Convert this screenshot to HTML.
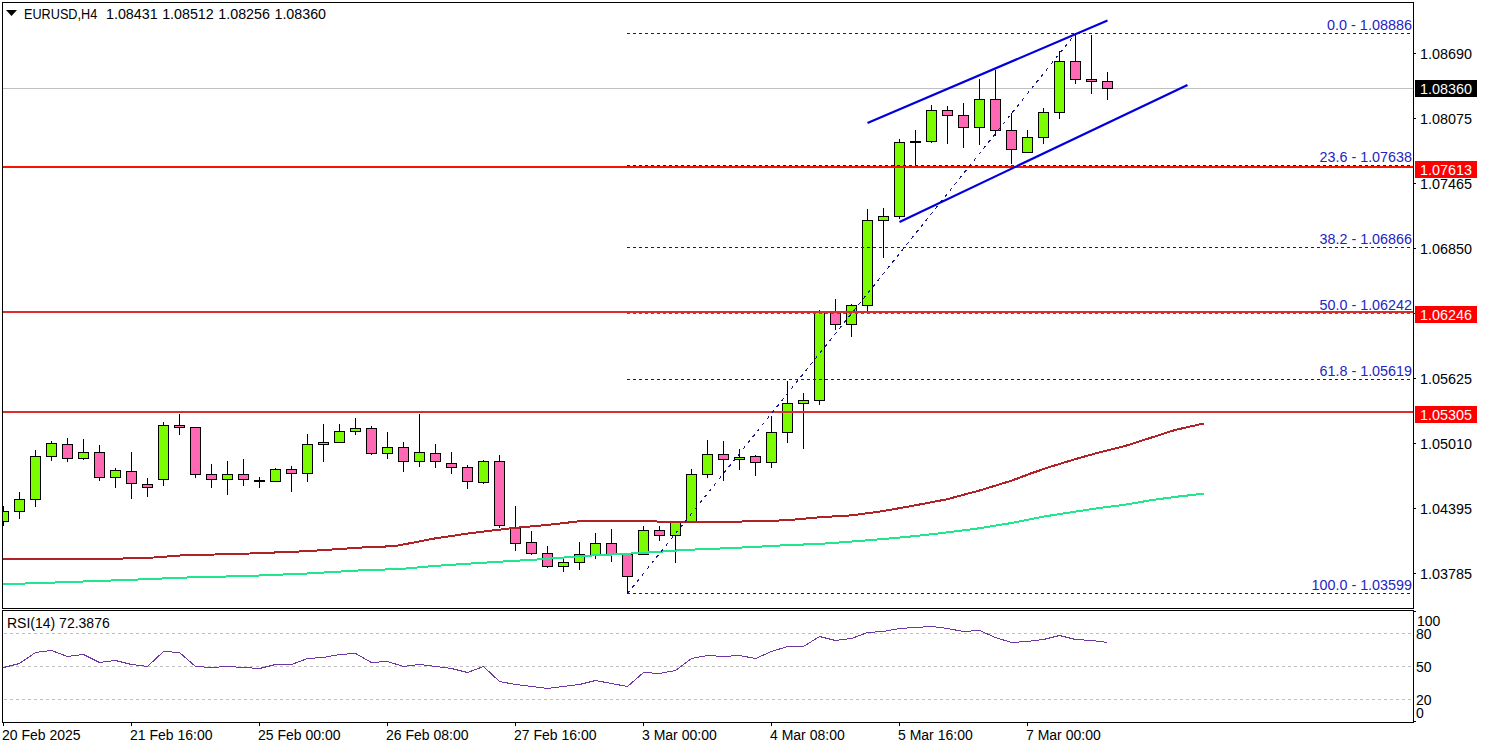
<!DOCTYPE html>
<html><head><meta charset="utf-8"><title>EURUSD,H4</title>
<style>
html,body{margin:0;padding:0;background:#fff;}
body{width:1485px;height:749px;overflow:hidden;font-family:"Liberation Sans",sans-serif;}
svg{display:block;}
svg text{font-family:"Liberation Sans",sans-serif;font-size:14px;}
.c{shape-rendering:crispEdges;}
</style></head><body>
<svg width="1485" height="749" viewBox="0 0 1485 749">
<rect width="1485" height="749" fill="#fff"/>
<defs><clipPath id="mc"><rect x="3" y="3" width="1410" height="605"/></clipPath><clipPath id="sc"><rect x="3" y="611" width="1410" height="111"/></clipPath></defs>
<rect class="c" x="3" y="88" width="1410" height="1" fill="#c0c0c0"/>
<g class="c" clip-path="url(#mc)">
<rect x="3" y="506" width="1" height="20" fill="#000"/>
<rect x="-2" y="511" width="11" height="11" fill="#000"/>
<rect x="-1" y="512" width="9" height="9" fill="#7cfc00"/>
<rect x="19" y="492" width="1" height="27" fill="#000"/>
<rect x="14" y="499" width="11" height="13" fill="#000"/>
<rect x="15" y="500" width="9" height="11" fill="#7cfc00"/>
<rect x="35" y="450" width="1" height="57" fill="#000"/>
<rect x="30" y="456" width="11" height="44" fill="#000"/>
<rect x="31" y="457" width="9" height="42" fill="#7cfc00"/>
<rect x="51" y="441" width="1" height="20" fill="#000"/>
<rect x="46" y="443" width="11" height="14" fill="#000"/>
<rect x="47" y="444" width="9" height="12" fill="#7cfc00"/>
<rect x="67" y="438" width="1" height="24" fill="#000"/>
<rect x="62" y="444" width="11" height="15" fill="#000"/>
<rect x="63" y="445" width="9" height="13" fill="#ff69b4"/>
<rect x="83" y="439" width="1" height="21" fill="#000"/>
<rect x="78" y="452" width="11" height="7" fill="#000"/>
<rect x="79" y="453" width="9" height="5" fill="#7cfc00"/>
<rect x="99" y="445" width="1" height="36" fill="#000"/>
<rect x="94" y="452" width="11" height="26" fill="#000"/>
<rect x="95" y="453" width="9" height="24" fill="#ff69b4"/>
<rect x="115" y="468" width="1" height="20" fill="#000"/>
<rect x="110" y="470" width="11" height="8" fill="#000"/>
<rect x="111" y="471" width="9" height="6" fill="#7cfc00"/>
<rect x="131" y="452" width="1" height="47" fill="#000"/>
<rect x="126" y="471" width="11" height="13" fill="#000"/>
<rect x="127" y="472" width="9" height="11" fill="#ff69b4"/>
<rect x="147" y="478" width="1" height="19" fill="#000"/>
<rect x="142" y="484" width="11" height="4" fill="#000"/>
<rect x="143" y="485" width="9" height="2" fill="#ff69b4"/>
<rect x="163" y="422" width="1" height="64" fill="#000"/>
<rect x="158" y="425" width="11" height="55" fill="#000"/>
<rect x="159" y="426" width="9" height="53" fill="#7cfc00"/>
<rect x="179" y="414" width="1" height="21" fill="#000"/>
<rect x="174" y="425" width="11" height="3" fill="#000"/>
<rect x="175" y="426" width="9" height="1" fill="#ff69b4"/>
<rect x="195" y="427" width="1" height="51" fill="#000"/>
<rect x="190" y="427" width="11" height="48" fill="#000"/>
<rect x="191" y="428" width="9" height="46" fill="#ff69b4"/>
<rect x="211" y="464" width="1" height="24" fill="#000"/>
<rect x="206" y="474" width="11" height="6" fill="#000"/>
<rect x="207" y="475" width="9" height="4" fill="#ff69b4"/>
<rect x="227" y="461" width="1" height="34" fill="#000"/>
<rect x="222" y="474" width="11" height="6" fill="#000"/>
<rect x="223" y="475" width="9" height="4" fill="#7cfc00"/>
<rect x="243" y="459" width="1" height="27" fill="#000"/>
<rect x="238" y="474" width="11" height="6" fill="#000"/>
<rect x="239" y="475" width="9" height="4" fill="#ff69b4"/>
<rect x="259" y="477" width="1" height="11" fill="#000"/>
<rect x="254" y="480" width="11" height="2" fill="#000"/>
<rect x="275" y="468" width="1" height="14" fill="#000"/>
<rect x="270" y="469" width="11" height="13" fill="#000"/>
<rect x="271" y="470" width="9" height="11" fill="#7cfc00"/>
<rect x="291" y="466" width="1" height="26" fill="#000"/>
<rect x="286" y="469" width="11" height="5" fill="#000"/>
<rect x="287" y="470" width="9" height="3" fill="#ff69b4"/>
<rect x="307" y="434" width="1" height="48" fill="#000"/>
<rect x="302" y="444" width="11" height="30" fill="#000"/>
<rect x="303" y="445" width="9" height="28" fill="#7cfc00"/>
<rect x="323" y="424" width="1" height="38" fill="#000"/>
<rect x="318" y="442" width="11" height="3" fill="#000"/>
<rect x="319" y="443" width="9" height="1" fill="#7cfc00"/>
<rect x="339" y="424" width="1" height="19" fill="#000"/>
<rect x="334" y="431" width="11" height="12" fill="#000"/>
<rect x="335" y="432" width="9" height="10" fill="#7cfc00"/>
<rect x="355" y="418" width="1" height="17" fill="#000"/>
<rect x="350" y="428" width="11" height="4" fill="#000"/>
<rect x="351" y="429" width="9" height="2" fill="#7cfc00"/>
<rect x="371" y="426" width="1" height="29" fill="#000"/>
<rect x="366" y="428" width="11" height="26" fill="#000"/>
<rect x="367" y="429" width="9" height="24" fill="#ff69b4"/>
<rect x="387" y="432" width="1" height="27" fill="#000"/>
<rect x="382" y="447" width="11" height="7" fill="#000"/>
<rect x="383" y="448" width="9" height="5" fill="#7cfc00"/>
<rect x="403" y="442" width="1" height="30" fill="#000"/>
<rect x="398" y="447" width="11" height="15" fill="#000"/>
<rect x="399" y="448" width="9" height="13" fill="#ff69b4"/>
<rect x="419" y="414" width="1" height="53" fill="#000"/>
<rect x="414" y="452" width="11" height="10" fill="#000"/>
<rect x="415" y="453" width="9" height="8" fill="#7cfc00"/>
<rect x="435" y="444" width="1" height="24" fill="#000"/>
<rect x="430" y="453" width="11" height="9" fill="#000"/>
<rect x="431" y="454" width="9" height="7" fill="#ff69b4"/>
<rect x="451" y="452" width="1" height="22" fill="#000"/>
<rect x="446" y="463" width="11" height="5" fill="#000"/>
<rect x="447" y="464" width="9" height="3" fill="#ff69b4"/>
<rect x="467" y="465" width="1" height="24" fill="#000"/>
<rect x="462" y="467" width="11" height="15" fill="#000"/>
<rect x="463" y="468" width="9" height="13" fill="#ff69b4"/>
<rect x="483" y="460" width="1" height="24" fill="#000"/>
<rect x="478" y="461" width="11" height="22" fill="#000"/>
<rect x="479" y="462" width="9" height="20" fill="#7cfc00"/>
<rect x="499" y="455" width="1" height="73" fill="#000"/>
<rect x="494" y="461" width="11" height="65" fill="#000"/>
<rect x="495" y="462" width="9" height="63" fill="#ff69b4"/>
<rect x="515" y="506" width="1" height="45" fill="#000"/>
<rect x="510" y="527" width="11" height="17" fill="#000"/>
<rect x="511" y="528" width="9" height="15" fill="#ff69b4"/>
<rect x="531" y="531" width="1" height="24" fill="#000"/>
<rect x="526" y="542" width="11" height="12" fill="#000"/>
<rect x="527" y="543" width="9" height="10" fill="#ff69b4"/>
<rect x="547" y="546" width="1" height="22" fill="#000"/>
<rect x="542" y="553" width="11" height="14" fill="#000"/>
<rect x="543" y="554" width="9" height="12" fill="#ff69b4"/>
<rect x="563" y="559" width="1" height="13" fill="#000"/>
<rect x="558" y="562" width="11" height="5" fill="#000"/>
<rect x="559" y="563" width="9" height="3" fill="#7cfc00"/>
<rect x="579" y="542" width="1" height="28" fill="#000"/>
<rect x="574" y="554" width="11" height="9" fill="#000"/>
<rect x="575" y="555" width="9" height="7" fill="#7cfc00"/>
<rect x="595" y="533" width="1" height="26" fill="#000"/>
<rect x="590" y="543" width="11" height="13" fill="#000"/>
<rect x="591" y="544" width="9" height="11" fill="#7cfc00"/>
<rect x="611" y="529" width="1" height="33" fill="#000"/>
<rect x="606" y="543" width="11" height="12" fill="#000"/>
<rect x="607" y="544" width="9" height="10" fill="#ff69b4"/>
<rect x="627" y="554" width="1" height="40" fill="#000"/>
<rect x="622" y="554" width="11" height="23" fill="#000"/>
<rect x="623" y="555" width="9" height="21" fill="#ff69b4"/>
<rect x="643" y="526" width="1" height="29" fill="#000"/>
<rect x="638" y="530" width="11" height="25" fill="#000"/>
<rect x="639" y="531" width="9" height="23" fill="#7cfc00"/>
<rect x="659" y="526" width="1" height="15" fill="#000"/>
<rect x="654" y="530" width="11" height="6" fill="#000"/>
<rect x="655" y="531" width="9" height="4" fill="#ff69b4"/>
<rect x="675" y="522" width="1" height="41" fill="#000"/>
<rect x="670" y="522" width="11" height="14" fill="#000"/>
<rect x="671" y="523" width="9" height="12" fill="#7cfc00"/>
<rect x="691" y="469" width="1" height="54" fill="#000"/>
<rect x="686" y="474" width="11" height="49" fill="#000"/>
<rect x="687" y="475" width="9" height="47" fill="#7cfc00"/>
<rect x="707" y="440" width="1" height="38" fill="#000"/>
<rect x="702" y="454" width="11" height="21" fill="#000"/>
<rect x="703" y="455" width="9" height="19" fill="#7cfc00"/>
<rect x="723" y="441" width="1" height="40" fill="#000"/>
<rect x="718" y="454" width="11" height="6" fill="#000"/>
<rect x="719" y="455" width="9" height="4" fill="#ff69b4"/>
<rect x="739" y="449" width="1" height="21" fill="#000"/>
<rect x="734" y="457" width="11" height="3" fill="#000"/>
<rect x="735" y="458" width="9" height="1" fill="#7cfc00"/>
<rect x="755" y="455" width="1" height="21" fill="#000"/>
<rect x="750" y="456" width="11" height="7" fill="#000"/>
<rect x="751" y="457" width="9" height="5" fill="#ff69b4"/>
<rect x="771" y="416" width="1" height="52" fill="#000"/>
<rect x="766" y="432" width="11" height="31" fill="#000"/>
<rect x="767" y="433" width="9" height="29" fill="#7cfc00"/>
<rect x="787" y="381" width="1" height="62" fill="#000"/>
<rect x="782" y="403" width="11" height="30" fill="#000"/>
<rect x="783" y="404" width="9" height="28" fill="#7cfc00"/>
<rect x="803" y="393" width="1" height="56" fill="#000"/>
<rect x="798" y="400" width="11" height="4" fill="#000"/>
<rect x="799" y="401" width="9" height="2" fill="#7cfc00"/>
<rect x="819" y="310" width="1" height="95" fill="#000"/>
<rect x="814" y="312" width="11" height="89" fill="#000"/>
<rect x="815" y="313" width="9" height="87" fill="#7cfc00"/>
<rect x="835" y="299" width="1" height="31" fill="#000"/>
<rect x="830" y="312" width="11" height="13" fill="#000"/>
<rect x="831" y="313" width="9" height="11" fill="#ff69b4"/>
<rect x="851" y="304" width="1" height="33" fill="#000"/>
<rect x="846" y="305" width="11" height="20" fill="#000"/>
<rect x="847" y="306" width="9" height="18" fill="#7cfc00"/>
<rect x="867" y="209" width="1" height="102" fill="#000"/>
<rect x="862" y="220" width="11" height="86" fill="#000"/>
<rect x="863" y="221" width="9" height="84" fill="#7cfc00"/>
<rect x="883" y="208" width="1" height="50" fill="#000"/>
<rect x="878" y="216" width="11" height="5" fill="#000"/>
<rect x="879" y="217" width="9" height="3" fill="#7cfc00"/>
<rect x="899" y="139" width="1" height="80" fill="#000"/>
<rect x="894" y="142" width="11" height="75" fill="#000"/>
<rect x="895" y="143" width="9" height="73" fill="#7cfc00"/>
<rect x="915" y="130" width="1" height="35" fill="#000"/>
<rect x="910" y="141" width="11" height="2" fill="#000"/>
<rect x="931" y="105" width="1" height="38" fill="#000"/>
<rect x="926" y="110" width="11" height="32" fill="#000"/>
<rect x="927" y="111" width="9" height="30" fill="#7cfc00"/>
<rect x="947" y="106" width="1" height="38" fill="#000"/>
<rect x="942" y="110" width="11" height="6" fill="#000"/>
<rect x="943" y="111" width="9" height="4" fill="#ff69b4"/>
<rect x="963" y="103" width="1" height="45" fill="#000"/>
<rect x="958" y="115" width="11" height="13" fill="#000"/>
<rect x="959" y="116" width="9" height="11" fill="#ff69b4"/>
<rect x="979" y="79" width="1" height="66" fill="#000"/>
<rect x="974" y="99" width="11" height="29" fill="#000"/>
<rect x="975" y="100" width="9" height="27" fill="#7cfc00"/>
<rect x="995" y="70" width="1" height="66" fill="#000"/>
<rect x="990" y="99" width="11" height="32" fill="#000"/>
<rect x="991" y="100" width="9" height="30" fill="#ff69b4"/>
<rect x="1011" y="113" width="1" height="51" fill="#000"/>
<rect x="1006" y="130" width="11" height="20" fill="#000"/>
<rect x="1007" y="131" width="9" height="18" fill="#ff69b4"/>
<rect x="1027" y="130" width="1" height="23" fill="#000"/>
<rect x="1022" y="137" width="11" height="16" fill="#000"/>
<rect x="1023" y="138" width="9" height="14" fill="#7cfc00"/>
<rect x="1043" y="108" width="1" height="36" fill="#000"/>
<rect x="1038" y="112" width="11" height="26" fill="#000"/>
<rect x="1039" y="113" width="9" height="24" fill="#7cfc00"/>
<rect x="1059" y="51" width="1" height="68" fill="#000"/>
<rect x="1054" y="61" width="11" height="52" fill="#000"/>
<rect x="1055" y="62" width="9" height="50" fill="#7cfc00"/>
<rect x="1075" y="35" width="1" height="49" fill="#000"/>
<rect x="1070" y="61" width="11" height="19" fill="#000"/>
<rect x="1071" y="62" width="9" height="17" fill="#ff69b4"/>
<rect x="1091" y="35" width="1" height="59" fill="#000"/>
<rect x="1086" y="79" width="11" height="3" fill="#000"/>
<rect x="1087" y="80" width="9" height="1" fill="#ff69b4"/>
<rect x="1107" y="72" width="1" height="28" fill="#000"/>
<rect x="1102" y="81" width="11" height="8" fill="#000"/>
<rect x="1103" y="82" width="9" height="6" fill="#ff69b4"/>
</g>
<g class="c" clip-path="url(#mc)">
<polyline points="3,558.5 50,559.0 100,559.0 147,558.0 180,555.5 250,553.5 307,551.2 360,547.6 395,546.1 435,538.4 472.4,532.9 510,528.4 547.4,524.9 580,521.2 610,521.2 685,521.7 720,521.7 755,521.4 787.5,520.2 820,517.2 851,515.4 882.4,511.2 914.9,505.4 947.3,499.2 979.8,490.4 1012.3,480.4 1032.3,472.9 1050,466.9 1075,459.2 1100,452.2 1125,446.0 1150,438.0 1175,430.0 1203.6,423.5" fill="none" stroke="#b02226" stroke-width="2" stroke-linejoin="round"/>
<polyline points="3,584.2 50,582.7 100,580.9 147,579.2 180,577.7 250,575.9 307,573.5 360,570.4 402,568.9 435,565.9 472.4,563.4 510,561.1 547.4,558.9 580,556.1 610,554.6 643,552.9 685,549.9 720,548.5 755,546.9 787.5,545.1 820,543.9 851,541.6 882.4,539.1 914.9,536.1 947.3,532.4 979.8,528.2 1012.3,522.9 1044.8,516.4 1075,511.7 1100,507.9 1125,504.7 1150,500.4 1175,496.9 1203.6,493.7" fill="none" stroke="#22e68e" stroke-width="2" stroke-linejoin="round"/>
</g>
<g class="c">
<rect x="3" y="166" width="1410" height="2" fill="#fa1400"/>
<rect x="3" y="311" width="1410" height="2" fill="#dc2c2c"/>
<rect x="3" y="411" width="1410" height="2" fill="#d83030"/>
<line x1="627" y1="33.5" x2="1412" y2="33.5" stroke="#16168c" stroke-width="1" stroke-dasharray="3 3"/>
<line x1="627" y1="165.5" x2="1412" y2="165.5" stroke="#16168c" stroke-width="1" stroke-dasharray="3 3"/>
<line x1="627" y1="247.5" x2="1412" y2="247.5" stroke="#16168c" stroke-width="1" stroke-dasharray="3 3"/>
<line x1="627" y1="313.5" x2="1412" y2="313.5" stroke="#c814c8" stroke-width="1" stroke-dasharray="3 3"/>
<line x1="627" y1="379.5" x2="1412" y2="379.5" stroke="#16168c" stroke-width="1" stroke-dasharray="3 3"/>
<line x1="627" y1="593.5" x2="1412" y2="593.5" stroke="#16168c" stroke-width="1" stroke-dasharray="3 3"/>
</g>
<line class="c" x1="627.5" y1="593.5" x2="1075.5" y2="33.5" stroke="#16168c" stroke-width="1" stroke-dasharray="3.4 4.3"/>
<line x1="867.5" y1="123" x2="1107.5" y2="20.5" stroke="#0000dd" stroke-width="2.2"/>
<line x1="899.5" y1="222" x2="1187.5" y2="85" stroke="#0000dd" stroke-width="2.2"/>
<g class="c">
<line x1="4" y1="633.5" x2="1413" y2="633.5" stroke="#c0c0c0" stroke-width="1" stroke-dasharray="3 3"/>
<line x1="4" y1="666.5" x2="1413" y2="666.5" stroke="#c0c0c0" stroke-width="1" stroke-dasharray="3 3"/>
<line x1="4" y1="699.5" x2="1413" y2="699.5" stroke="#c0c0c0" stroke-width="1" stroke-dasharray="3 3"/>
</g>
<g class="c">
<polyline points="3.5,667.5 19.5,663.5 35.5,652.5 51.5,650.5 67.5,656.5 83.5,654.5 99.5,662.5 115.5,660.5 131.5,664.5 147.5,666.5 163.5,651.5 179.5,652.5 195.5,666.5 211.5,667.5 227.5,666.5 243.5,667.5 259.5,668.5 275.5,664.5 291.5,664.5 307.5,658.5 323.5,657.5 339.5,654.5 355.5,653.5 371.5,662.5 387.5,661.5 403.5,666.5 419.5,664.5 435.5,666.5 451.5,668.5 467.5,672.5 483.5,666.5 499.5,681.5 515.5,684.5 531.5,686.5 547.5,688.5 563.5,686.5 579.5,684.5 595.5,680.5 611.5,683.5 627.5,686.5 643.5,672.5 659.5,673.5 675.5,670.5 691.5,658.5 707.5,655.5 723.5,656.5 739.5,655.5 755.5,658.5 771.5,651.5 787.5,646.5 803.5,646.5 819.5,636.5 835.5,640.5 851.5,638.5 867.5,632.5 883.5,631.5 899.5,628.5 915.5,627.5 931.5,626.5 947.5,628.5 963.5,631.5 979.5,630.5 995.5,637.5 1011.5,642.5 1027.5,641.5 1043.5,639.5 1059.5,635.5 1075.5,639.5 1091.5,640.5 1107.5,642.5" fill="none" stroke="#6c36a4" stroke-width="1" stroke-linejoin="round"/>
</g>
<g class="c" fill="#000">
<rect x="2" y="2" width="1412" height="1"/>
<rect x="2" y="2" width="1" height="607"/><rect x="2" y="610" width="1" height="113"/>
<rect x="1413" y="2" width="1" height="607"/>
<rect x="2" y="608" width="1412" height="1"/>
<rect x="2" y="610" width="1412" height="1"/>
<rect x="1413" y="610" width="1" height="113"/>
<rect x="2" y="722" width="1412" height="1"/>
<rect x="1414" y="53" width="2" height="1"/>
<rect x="1414" y="118" width="2" height="1"/>
<rect x="1414" y="183" width="2" height="1"/>
<rect x="1414" y="248" width="2" height="1"/>
<rect x="1414" y="313" width="2" height="1"/>
<rect x="1414" y="378" width="2" height="1"/>
<rect x="1414" y="443" width="2" height="1"/>
<rect x="1414" y="508" width="2" height="1"/>
<rect x="1414" y="573" width="2" height="1"/>
<rect x="1414" y="611" width="2" height="1"/><rect x="1414" y="721" width="2" height="1"/>
<rect x="3" y="723" width="1" height="3"/>
<rect x="131" y="723" width="1" height="3"/>
<rect x="259" y="723" width="1" height="3"/>
<rect x="387" y="723" width="1" height="3"/>
<rect x="515" y="723" width="1" height="3"/>
<rect x="643" y="723" width="1" height="3"/>
<rect x="771" y="723" width="1" height="3"/>
<rect x="899" y="723" width="1" height="3"/>
<rect x="1027" y="723" width="1" height="3"/>
<rect x="1415" y="80" width="62" height="17" fill="#000"/>
<rect x="1415" y="161" width="62" height="17" fill="#ff0000"/>
<rect x="1415" y="306" width="62" height="17" fill="#ff0000"/>
<rect x="1415" y="406" width="62" height="17" fill="#ff0000"/>
<polygon points="6,10 17,10 11.5,16" style="shape-rendering:auto"/>
</g>
<text x="24" y="19" fill="#000" text-anchor="start" textLength="73.2" lengthAdjust="spacingAndGlyphs">EURUSD,H4</text>
<text x="106.0" y="19" fill="#000" text-anchor="start" textLength="51.6" lengthAdjust="spacingAndGlyphs">1.08431</text>
<text x="162.15" y="19" fill="#000" text-anchor="start" textLength="51.6" lengthAdjust="spacingAndGlyphs">1.08512</text>
<text x="218.3" y="19" fill="#000" text-anchor="start" textLength="51.6" lengthAdjust="spacingAndGlyphs">1.08256</text>
<text x="274.45" y="19" fill="#000" text-anchor="start" textLength="51.6" lengthAdjust="spacingAndGlyphs">1.08360</text>
<text x="1420" y="59" fill="#000" text-anchor="start" textLength="52" lengthAdjust="spacingAndGlyphs">1.08690</text>
<text x="1420" y="124" fill="#000" text-anchor="start" textLength="52" lengthAdjust="spacingAndGlyphs">1.08075</text>
<text x="1420" y="189" fill="#000" text-anchor="start" textLength="52" lengthAdjust="spacingAndGlyphs">1.07465</text>
<text x="1420" y="254" fill="#000" text-anchor="start" textLength="52" lengthAdjust="spacingAndGlyphs">1.06850</text>
<text x="1420" y="384" fill="#000" text-anchor="start" textLength="52" lengthAdjust="spacingAndGlyphs">1.05625</text>
<text x="1420" y="449" fill="#000" text-anchor="start" textLength="52" lengthAdjust="spacingAndGlyphs">1.05010</text>
<text x="1420" y="514" fill="#000" text-anchor="start" textLength="52" lengthAdjust="spacingAndGlyphs">1.04395</text>
<text x="1420" y="579" fill="#000" text-anchor="start" textLength="52" lengthAdjust="spacingAndGlyphs">1.03785</text>
<text x="1420" y="94" fill="#fff" text-anchor="start" textLength="52" lengthAdjust="spacingAndGlyphs">1.08360</text>
<text x="1420" y="175" fill="#fff" text-anchor="start" textLength="52" lengthAdjust="spacingAndGlyphs">1.07613</text>
<text x="1420" y="320" fill="#fff" text-anchor="start" textLength="52" lengthAdjust="spacingAndGlyphs">1.06246</text>
<text x="1420" y="420" fill="#fff" text-anchor="start" textLength="52" lengthAdjust="spacingAndGlyphs">1.05305</text>
<text x="1412" y="30" fill="#2424c4" text-anchor="end" textLength="85" lengthAdjust="spacingAndGlyphs">0.0 - 1.08886</text>
<text x="1412" y="162" fill="#2424c4" text-anchor="end" textLength="92.5" lengthAdjust="spacingAndGlyphs">23.6 - 1.07638</text>
<text x="1412" y="244" fill="#2424c4" text-anchor="end" textLength="92.5" lengthAdjust="spacingAndGlyphs">38.2 - 1.06866</text>
<text x="1412" y="310" fill="#2424c4" text-anchor="end" textLength="92.5" lengthAdjust="spacingAndGlyphs">50.0 - 1.06242</text>
<text x="1412" y="376" fill="#2424c4" text-anchor="end" textLength="92.5" lengthAdjust="spacingAndGlyphs">61.8 - 1.05619</text>
<text x="1412" y="590" fill="#2424c4" text-anchor="end" textLength="100.5" lengthAdjust="spacingAndGlyphs">100.0 - 1.03599</text>
<text x="7" y="628" fill="#000" text-anchor="start">RSI(14) 72.3876</text>
<text x="1417" y="626" fill="#000" text-anchor="start">100</text>
<text x="1416" y="639" fill="#000" text-anchor="start">80</text>
<text x="1416" y="672" fill="#000" text-anchor="start">50</text>
<text x="1416" y="705" fill="#000" text-anchor="start">20</text>
<text x="1416" y="718" fill="#000" text-anchor="start">0</text>
<text x="2" y="740" fill="#000" text-anchor="start">20 Feb 2025</text>
<text x="130" y="740" fill="#000" text-anchor="start">21 Feb 16:00</text>
<text x="258" y="740" fill="#000" text-anchor="start">25 Feb 00:00</text>
<text x="386" y="740" fill="#000" text-anchor="start">26 Feb 08:00</text>
<text x="514" y="740" fill="#000" text-anchor="start">27 Feb 16:00</text>
<text x="642" y="740" fill="#000" text-anchor="start">3 Mar 00:00</text>
<text x="770" y="740" fill="#000" text-anchor="start">4 Mar 08:00</text>
<text x="898" y="740" fill="#000" text-anchor="start">5 Mar 16:00</text>
<text x="1026" y="740" fill="#000" text-anchor="start">7 Mar 00:00</text>
</svg></body></html>
